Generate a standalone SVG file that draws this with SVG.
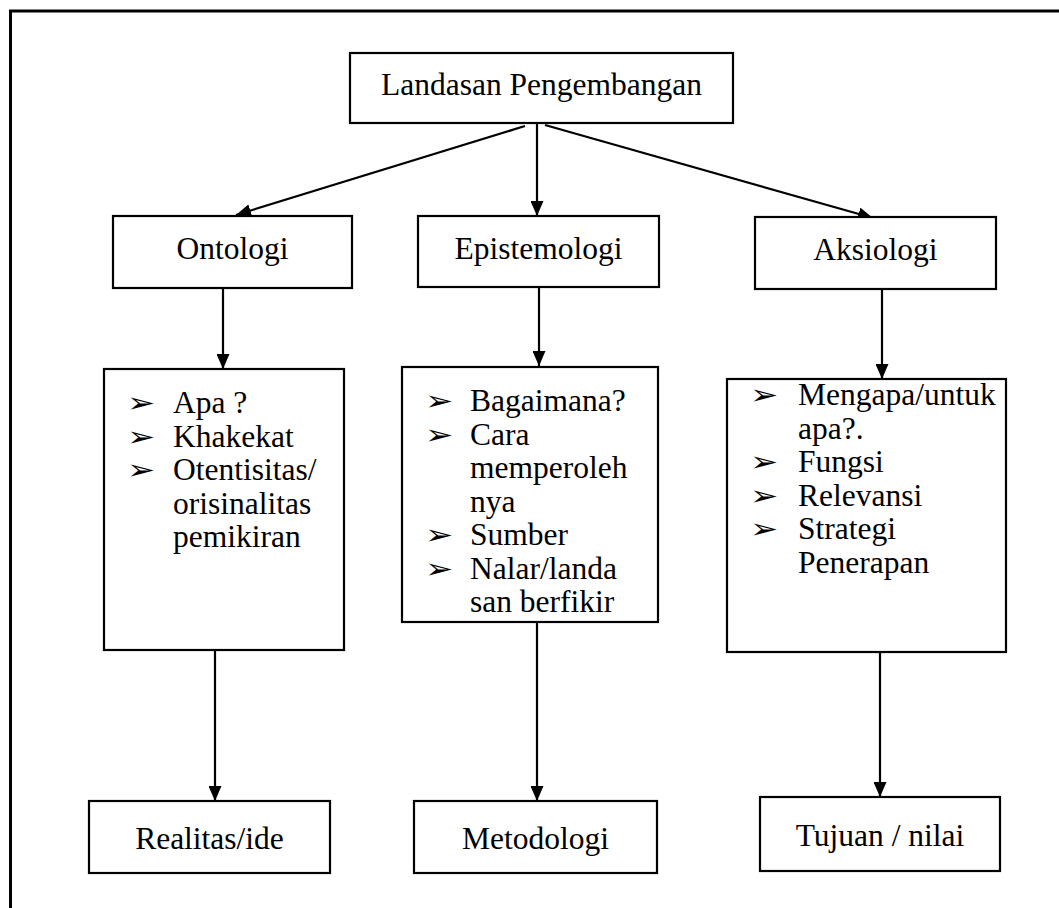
<svg xmlns="http://www.w3.org/2000/svg" width="1059" height="908" viewBox="0 0 1059 908">
  <style>
    .box { fill: #fff; stroke: #000; stroke-width: 2.2; }
    .frame { fill: none; stroke: #000; stroke-width: 3; }
    .lbl { font-family: "Liberation Serif", "Times New Roman", serif; font-size: 31.5px; fill: #000; }
    .mid { text-anchor: middle; }
    .bul { font-family: "DejaVu Sans", sans-serif; font-size: 27px; fill: #000; }
    .edge { stroke: #000; stroke-width: 2.2; fill: none; marker-end: url(#arrow); }
  </style>
  <defs>
    <marker id="arrow" markerWidth="15" markerHeight="13" viewBox="0 0 15 13" refX="15" refY="6.5" orient="auto" markerUnits="userSpaceOnUse">
      <path d="M0,0 L15,6.5 L0,13 Z" fill="#000"/>
    </marker>
  </defs>
  <rect width="1059" height="908" fill="#fff"/>
  <!-- outer frame, open past the right and bottom edges -->
  <rect class="frame" x="10.5" y="11" width="1100" height="1000"/>

  <g id="connectors">
    <line class="edge" x1="525" y1="126" x2="236" y2="215"/>
    <line class="edge" x1="537" y1="124" x2="537" y2="216"/>
    <line class="edge" x1="545" y1="125" x2="873" y2="218"/>
    <line class="edge" x1="223" y1="289" x2="223" y2="369"/>
    <line class="edge" x1="539" y1="288" x2="539" y2="366"/>
    <line class="edge" x1="882" y1="290" x2="882" y2="379"/>
    <line class="edge" x1="215" y1="651" x2="215" y2="801"/>
    <line class="edge" x1="537" y1="623" x2="537" y2="801"/>
    <line class="edge" x1="880" y1="653" x2="880" y2="797"/>
  </g>

  <g id="landasan">
    <rect class="box" x="350" y="53" width="383" height="70"/>
    <text class="lbl mid" x="541.5" y="95">Landasan Pengembangan</text>
  </g>

  <g id="ontologi">
    <rect class="box" x="113" y="216" width="239" height="72"/>
    <text class="lbl mid" x="232.5" y="259">Ontologi</text>
  </g>
  <g id="epistemologi">
    <rect class="box" x="418" y="216" width="241" height="71"/>
    <text class="lbl mid" x="538.5" y="259">Epistemologi</text>
  </g>
  <g id="aksiologi">
    <rect class="box" x="755" y="217" width="241" height="72"/>
    <text class="lbl mid" x="875.5" y="260">Aksiologi</text>
  </g>

  <!-- list bullets are stretched sideways to the width of the arrowhead bullet -->
  <g id="ontologi-list">
    <rect class="box" x="104" y="369" width="240" height="281"/>
    <text class="bul" transform="translate(127,412) scale(1.25,1)">➢</text>
    <text class="bul" transform="translate(127,445.5) scale(1.25,1)">➢</text>
    <text class="bul" transform="translate(127,479) scale(1.25,1)">➢</text>
    <text class="lbl" x="173" y="413">Apa ?</text>
    <text class="lbl" x="173" y="446.5">Khakekat</text>
    <text class="lbl" x="173" y="480">Otentisitas/</text>
    <text class="lbl" x="173" y="513.5">orisinalitas</text>
    <text class="lbl" x="173" y="547">pemikiran</text>
  </g>

  <g id="epistemologi-list">
    <rect class="box" x="402" y="367" width="256" height="255"/>
    <text class="bul" transform="translate(425,410) scale(1.25,1)">➢</text>
    <text class="bul" transform="translate(425,443.5) scale(1.25,1)">➢</text>
    <text class="bul" transform="translate(425,544) scale(1.25,1)">➢</text>
    <text class="bul" transform="translate(425,577.5) scale(1.25,1)">➢</text>
    <text class="lbl" x="470" y="411">Bagaimana?</text>
    <text class="lbl" x="470" y="444.5">Cara</text>
    <text class="lbl" x="470" y="478">memperoleh</text>
    <text class="lbl" x="470" y="511.5">nya</text>
    <text class="lbl" x="470" y="545">Sumber</text>
    <text class="lbl" x="470" y="578.5">Nalar/landa</text>
    <text class="lbl" x="470" y="612">san berfikir</text>
  </g>

  <g id="aksiologi-list">
    <rect class="box" x="727" y="379" width="279" height="273"/>
    <text class="bul" transform="translate(750,404) scale(1.25,1)">➢</text>
    <text class="bul" transform="translate(750,471) scale(1.25,1)">➢</text>
    <text class="bul" transform="translate(750,504.5) scale(1.25,1)">➢</text>
    <text class="bul" transform="translate(750,538) scale(1.25,1)">➢</text>
    <text class="lbl" x="798" y="405">Mengapa/untuk</text>
    <text class="lbl" x="798" y="438.5">apa?.</text>
    <text class="lbl" x="798" y="472">Fungsi</text>
    <text class="lbl" x="798" y="505.5">Relevansi</text>
    <text class="lbl" x="798" y="539">Strategi</text>
    <text class="lbl" x="798" y="572.5">Penerapan</text>
  </g>

  <g id="realitas">
    <rect class="box" x="89" y="801" width="241" height="72"/>
    <text class="lbl mid" x="209.5" y="849">Realitas/ide</text>
  </g>
  <g id="metodologi">
    <rect class="box" x="414" y="801" width="243" height="72"/>
    <text class="lbl mid" x="535.5" y="849">Metodologi</text>
  </g>
  <g id="tujuan">
    <rect class="box" x="760" y="797" width="240" height="74"/>
    <text class="lbl mid" x="880" y="846">Tujuan / nilai</text>
  </g>
</svg>
